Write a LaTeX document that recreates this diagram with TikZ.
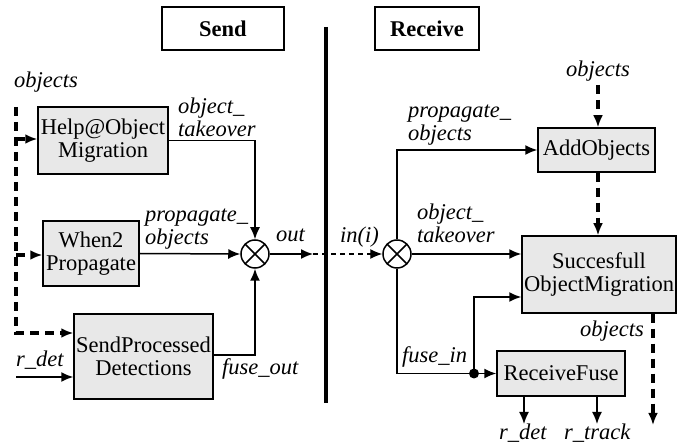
\documentclass[tikz,border=0pt]{standalone}
\usepackage{fontspec}
\setmainfont{Liberation Serif}
\usepackage{tikz}
\usetikzlibrary{arrows.meta,positioning,calc}

\begin{document}
\begin{tikzpicture}[
    x=1pt, y=-1pt,
    every node/.style={font=\fontsize{22.5}{23}\selectfont},
    procbox/.style={draw, fill=gray!18, line width=1.5pt, align=center, inner sep=0pt},
    titlebox/.style={draw, line width=1.5pt, font=\fontsize{22.5}{23}\selectfont\bfseries, inner sep=0pt},
    mixer/.style={circle, draw, line width=1.5pt, minimum size=28pt, inner sep=0pt,
        path picture={\draw[line width=1.5pt] (path picture bounding box.north west) -- (path picture bounding box.south east)
                      (path picture bounding box.north east) -- (path picture bounding box.south west);}},
    lbl/.style={font=\fontsize{22.5}{23}\selectfont\itshape, inner sep=0pt, align=left},
    arrow/.style={-{Latex[length=12pt,width=10pt]}, line width=1.5pt},
    dasharrow/.style={-{Latex[length=12pt,width=10pt]}, line width=3.2pt, dash pattern=on 9pt off 6pt},
    dashline/.style={line width=3.2pt, dash pattern=on 9pt off 6pt}
]
\useasboundingbox (0,0) rectangle (697,446);

% titles and separator
\node[titlebox, minimum width=122pt, minimum height=43pt] (sendtitle) at (223,28.5) {Send};
\node[titlebox, minimum width=104pt, minimum height=43pt] (recvtitle) at (427,28.5) {Receive};
\coordinate (bartop) at (326,27);
\coordinate (barbot) at (326,403);
\draw[line width=4.5pt] (bartop) -- (barbot);

% send side
\node[procbox, minimum width=130pt, minimum height=67pt] (help) at (103,140.5) {Help@Object\\Migration};
\node[procbox, minimum width=96pt, minimum height=65pt] (when2) at (91,253.5) {When2\\Propagate};
\node[procbox, minimum width=139pt, minimum height=85pt] (sendproc) at (143.5,356.5) {SendProcessed\\Detections};
\node[mixer] (sendmix) at (255,254) {};

\node[lbl, anchor=base west] (objl) at (14,88) {objects};
\coordinate (lefttop) at (16,107);
\coordinate (jhelp) at (16,139);
\coordinate (jwhen) at (16,255);
\draw[dasharrow] (lefttop) |- ([yshift=23.5pt]sendproc.west);
\draw[dasharrow] (jhelp) -- (jhelp -| help.west);
\draw[dasharrow] (jwhen) -- (jwhen -| when2.west);

\node[lbl, anchor=base west] (rdetl) at (16,367) {r\_det};
\coordinate (rdetin) at (16,377);
\draw[arrow] (rdetin) -- (rdetin -| sendproc.west);

\draw[arrow] (help.east) -| (sendmix.north);
\node[lbl, anchor=west] (takeoutl) at (178,117) {object\_\\takeover};
\draw[arrow] (when2.east) -- (sendmix.west);
\node[lbl, anchor=west] (propoutl) at (145,229) {propagate\_\\objects};
\draw[arrow] ([yshift=1.5pt]sendproc.east) -| (sendmix.south);
\node[lbl, anchor=base west] (fuseoutl) at (222,375) {fuse\_out};

\coordinate (outend) at (313,254);
\draw[arrow] (sendmix.east) -- (outend);
\node[lbl, anchor=base west] (outl) at (276,242) {out};

% receive side
\node[mixer] (recvmix) at (397,254) {};
\draw[-{Latex[length=12pt,width=10pt]}, line width=1.2pt, dash pattern=on 5pt off 4pt] (outend) -- (recvmix.west);
\node[lbl, anchor=base west] (inl) at (340,243) {in(i)};

\node[procbox, minimum width=117pt, minimum height=44pt] (addobj) at (596.5,150) {AddObjects};
\node[procbox, minimum width=154pt, minimum height=77pt] (succ) at (599,274.5) {Succesfull\\ObjectMigration};
\node[procbox, minimum width=128pt, minimum height=45pt] (recvfuse) at (561,373.5) {ReceiveFuse};

\draw[arrow] (recvmix.north) |- (addobj.west);
\node[lbl, anchor=west] (propinl) at (408,125) {propagate\_\\objects};
\draw[arrow] (recvmix.east) -- (recvmix -| succ.west);
\node[lbl, anchor=west] (takeinl) at (417,223) {object\_\\takeover};

\coordinate (fusedot) at (474,373.5);
\draw[arrow] (recvmix.south) |- (recvfuse.west);
\fill (fusedot) circle (5pt);
\draw[arrow] (fusedot) |- ([yshift=-22.5pt]succ.west);
\node[lbl, anchor=base west] (fuseinl) at (402,363) {fuse\_in};

\node[lbl, anchor=base west] (objtr) at (566,77) {objects};
\coordinate (objtrend) at (598,85);
\draw[dasharrow] (objtrend) -- (objtrend |- addobj.north);
\draw[dasharrow] (addobj.south -| objtrend) -- (objtrend |- succ.north);

\coordinate (objout) at (653,425);
\draw[dasharrow] (objout |- succ.south) -- (objout);
\node[lbl, anchor=base west] (objbr) at (580,337) {objects};

\coordinate (rdetout) at (524,424);
\coordinate (rtrackout) at (597,424);
\draw[arrow] (rdetout |- recvfuse.south) -- (rdetout);
\draw[arrow] (rtrackout |- recvfuse.south) -- (rtrackout);
\node[lbl, anchor=base west] (rdetr) at (499,440) {r\_det};
\node[lbl, anchor=base west] (rtrackr) at (564,440) {r\_track};
\end{tikzpicture}
\end{document}
